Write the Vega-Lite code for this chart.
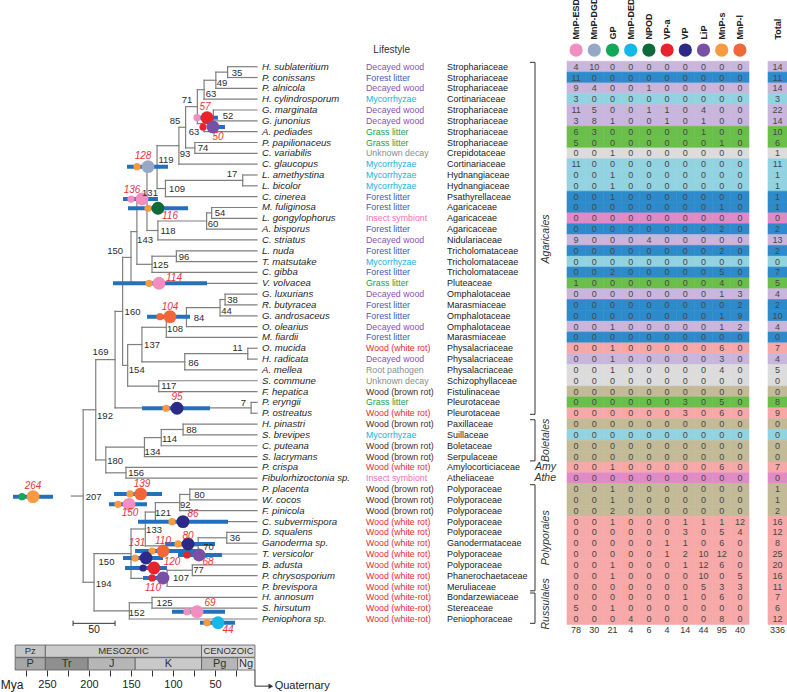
{
"$schema":"https://vega.github.io/schema/vega-lite/v6.json",
"width":787,"height":692,"autosize":{"type":"none"},"padding":0,"background":"white",
"config":{"view":{"stroke":null},"font":"Liberation Sans"},
"datasets":{
"hz":[{"a":35,"b":0,"r":0},{"a":35,"b":0,"r":1},{"a":49,"b":0,"r":2},{"a":63,"b":0,"r":3},{"a":52,"b":0,"r":4},{"a":52,"b":0,"r":5},{"a":63,"b":0,"r":6},{"a":74,"b":0,"r":7},{"a":74,"b":0,"r":8},{"a":93,"b":0,"r":9},{"a":17,"b":0,"r":10},{"a":17,"b":0,"r":11},{"a":109,"b":0,"r":12},{"a":54,"b":0,"r":13},{"a":54,"b":0,"r":14},{"a":60,"b":0,"r":15},{"a":118,"b":0,"r":16},{"a":96,"b":0,"r":17},{"a":96,"b":0,"r":18},{"a":125,"b":0,"r":19},{"a":150,"b":0,"r":20},{"a":38,"b":0,"r":21},{"a":38,"b":0,"r":22},{"a":44,"b":0,"r":23},{"a":84,"b":0,"r":24},{"a":108,"b":0,"r":25},{"a":11,"b":0,"r":26},{"a":11,"b":0,"r":27},{"a":86,"b":0,"r":28},{"a":117,"b":0,"r":29},{"a":117,"b":0,"r":30},{"a":7,"b":0,"r":31},{"a":7,"b":0,"r":32},{"a":88,"b":0,"r":33},{"a":88,"b":0,"r":34},{"a":114,"b":0,"r":35},{"a":134,"b":0,"r":36},{"a":156,"b":0,"r":37},{"a":156,"b":0,"r":38},{"a":80,"b":0,"r":39},{"a":80,"b":0,"r":40},{"a":92,"b":0,"r":41},{"a":121,"b":0,"r":42},{"a":36,"b":0,"r":43},{"a":36,"b":0,"r":44},{"a":70,"b":0,"r":45},{"a":77,"b":0,"r":46},{"a":77,"b":0,"r":47},{"a":107,"b":0,"r":48},{"a":125,"b":0,"r":49},{"a":125,"b":0,"r":50},{"a":152,"b":0,"r":51},
{"a":49,"b":35,"r":0.5},{"a":63,"b":49,"r":1.25},{"a":71,"b":63,"r":2.125},{"a":63,"b":52,"r":4.5},{"a":71,"b":63,"r":5.25},{"a":85,"b":71,"r":3.688},{"a":85,"b":74,"r":7.5},{"a":93,"b":85,"r":5.594},{"a":119,"b":93,"r":7.297},{"a":109,"b":17,"r":10.5},{"a":119,"b":109,"r":11.25},{"a":131,"b":119,"r":9.273},{"a":60,"b":54,"r":13.5},{"a":118,"b":60,"r":14.25},{"a":131,"b":118,"r":15.125},{"a":143,"b":131,"r":12.199},{"a":125,"b":96,"r":17.5},{"a":143,"b":125,"r":18.25},{"a":150,"b":143,"r":15.225},{"a":160,"b":150,"r":17.612},{"a":44,"b":38,"r":21.5},{"a":84,"b":44,"r":22.25},{"a":108,"b":84,"r":23.125},{"a":137,"b":108,"r":24.063},{"a":86,"b":11,"r":26.5},{"a":137,"b":86,"r":27.25},{"a":154,"b":137,"r":25.656},{"a":154,"b":117,"r":29.5},{"a":160,"b":154,"r":27.578},{"a":169,"b":160,"r":22.595},{"a":169,"b":7,"r":31.5},{"a":192,"b":169,"r":27.048},{"a":114,"b":88,"r":33.5},{"a":134,"b":114,"r":34.25},{"a":180,"b":134,"r":35.125},{"a":180,"b":156,"r":37.5},{"a":192,"b":180,"r":36.313},{"a":207,"b":192,"r":31.68},{"a":92,"b":80,"r":39.5},{"a":121,"b":92,"r":40.25},{"a":133,"b":121,"r":41.125},{"a":70,"b":36,"r":43.5},{"a":133,"b":70,"r":44.25},{"a":150,"b":133,"r":42.688},{"a":107,"b":77,"r":46.5},{"a":150,"b":107,"r":47.25},{"a":194,"b":150,"r":44.969},{"a":152,"b":125,"r":49.5},{"a":194,"b":152,"r":50.25},{"a":207,"b":194,"r":47.609},{"a":221,"b":207,"r":39.645}],
"vt":[{"a":35,"r":0,"s":1},{"a":49,"r":0.5,"s":2},{"a":63,"r":1.25,"s":3},{"a":52,"r":4,"s":5},{"a":63,"r":4.5,"s":6},{"a":71,"r":2.125,"s":5.25},{"a":74,"r":7,"s":8},{"a":85,"r":3.688,"s":7.5},{"a":93,"r":5.594,"s":9},{"a":17,"r":10,"s":11},{"a":109,"r":10.5,"s":12},{"a":119,"r":7.297,"s":11.25},{"a":54,"r":13,"s":14},{"a":60,"r":13.5,"s":15},{"a":118,"r":14.25,"s":16},{"a":131,"r":9.273,"s":15.125},{"a":96,"r":17,"s":18},{"a":125,"r":17.5,"s":19},{"a":143,"r":12.199,"s":18.25},{"a":150,"r":15.225,"s":20},{"a":38,"r":21,"s":22},{"a":44,"r":21.5,"s":23},{"a":84,"r":22.25,"s":24},{"a":108,"r":23.125,"s":25},{"a":11,"r":26,"s":27},{"a":86,"r":26.5,"s":28},{"a":137,"r":24.063,"s":27.25},{"a":117,"r":29,"s":30},{"a":154,"r":25.656,"s":29.5},{"a":160,"r":17.612,"s":27.578},{"a":7,"r":31,"s":32},{"a":169,"r":22.595,"s":31.5},{"a":88,"r":33,"s":34},{"a":114,"r":33.5,"s":35},{"a":134,"r":34.25,"s":36},{"a":156,"r":37,"s":38},{"a":180,"r":35.125,"s":37.5},{"a":192,"r":27.048,"s":36.313},{"a":80,"r":39,"s":40},{"a":92,"r":39.5,"s":41},{"a":121,"r":40.25,"s":42},{"a":36,"r":43,"s":44},{"a":70,"r":43.5,"s":45},{"a":133,"r":41.125,"s":44.25},{"a":77,"r":46,"s":47},{"a":107,"r":46.5,"s":48},{"a":150,"r":42.688,"s":47.25},{"a":125,"r":49,"s":50},{"a":152,"r":49.5,"s":51},{"a":194,"r":44.969,"s":50.25},{"a":207,"r":31.68,"s":47.609}],
"ev":[{"t":"57","a":59.5,"r":4.71,"sa":71.4,"lo":67.9,"hi":46.4,"big":"VP-a","small":"MnP-ESD","la":61.9,"lr":3.72},
{"t":"50","a":52.4,"r":5.57,"sa":64.3,"lo":59.5,"hi":38.1,"big":"LiP","small":"VP-a","la":46.4,"lr":6.49},
{"t":"128","a":129.8,"r":9.23,"sa":142.9,"lo":154.8,"hi":106,"big":"MnP-DGD","small":"MnP-s","la":135.7,"lr":8.25},
{"t":"136","a":136.9,"r":12.22,"sa":150,"lo":159.5,"hi":117.9,"big":"MnP-ESD","small":"MnP-ESD","la":148.8,"lr":11.38},
{"t":"116","a":117.9,"r":13.07,"sa":129.8,"lo":153.6,"hi":82.1,"big":"NPOD","small":"MnP-s","la":103.6,"lr":13.76},
{"t":"114","a":116.7,"r":20.0,"sa":128.6,"lo":171.4,"hi":59.5,"big":"MnP-ESD","small":"MnP-s","la":98.8,"lr":19.51},
{"t":"104","a":103.6,"r":23.08,"sa":115.5,"lo":131,"hi":79.8,"big":"MnP-l","small":"MnP-l","la":103.6,"lr":22.19},
{"t":"95","a":95.2,"r":31.54,"sa":108.3,"lo":136.9,"hi":56,"big":"VP","small":"MnP-s","la":95.2,"lr":30.5},
{"t":"264","a":266.7,"r":39.7,"sa":279.8,"lo":290.5,"hi":242.9,"big":"MnP-s","small":"GP","la":266.7,"lr":38.72},
{"t":"139","a":138.5,"r":39.45,"sa":151.2,"lo":170.2,"hi":113.1,"big":"MnP-l","small":"MnP-s","la":136.9,"lr":38.53},
{"t":"150","a":152.4,"r":40.41,"sa":165.5,"lo":176.2,"hi":131,"big":"MnP-ESD","small":"MnP-s","la":151.2,"lr":41.21},
{"t":"86","a":88.1,"r":42.01,"sa":101.2,"lo":141.7,"hi":34.5,"big":"VP","small":"MnP-s","la":76.2,"lr":41.3},
{"t":"80","a":82.1,"r":44.07,"sa":94,"lo":109.5,"hi":50,"big":"VP","small":"MnP-s","la":82.1,"lr":43.33},
{"t":"110","a":111.9,"r":44.72,"sa":125,"lo":145.2,"hi":71.4,"big":"MnP-l","small":"MnP-s","la":111.9,"lr":43.8},
{"t":"131","a":132.1,"r":45.37,"sa":145.2,"lo":159.5,"hi":111.9,"big":"VP","small":"MnP-s","la":142.9,"lr":43.98},
{"t":"68","a":69,"r":45.09,"sa":83.3,"lo":94,"hi":41.7,"big":"LiP","small":"VP-a","la":58.3,"lr":45.73},
{"t":"120","a":122.6,"r":46.29,"sa":135.7,"lo":157.1,"hi":107.1,"big":"VP-a","small":"VP","la":101.2,"lr":45.73},
{"t":"110","a":111.9,"r":47.21,"sa":125,"lo":135.7,"hi":107.1,"big":"LiP","small":"VP-a","la":123.8,"lr":48.14},
{"t":"69","a":71.4,"r":50.32,"sa":83.3,"lo":101.2,"hi":38.1,"big":"MnP-ESD","small":"MnP-ESD","la":56,"lr":49.49},
{"t":"44","a":46.4,"r":51.34,"sa":59.5,"lo":67.9,"hi":26.2,"big":"MnP-DED","small":"MnP-s","la":34.5,"lr":52.01}],
"nl":[{"t":"35","a":23.8,"r":0.55},{"t":"49","a":41.7,"r":1.5},{"t":"63","a":54.8,"r":2.52},{"t":"71","a":83.3,"r":3.07},{"t":"52","a":34.5,"r":4.55},{"t":"63","a":75,"r":6.03},{"t":"85","a":97.6,"r":5.01},{"t":"74","a":64.3,"r":7.5},{"t":"93","a":85.7,"r":8.06},{"t":"119","a":108.3,"r":8.61},{"t":"17","a":29.8,"r":9.9},{"t":"109","a":95.2,"r":11.29},{"t":"131","a":127.4,"r":11.66},{"t":"54","a":44,"r":13.51},{"t":"60","a":52.4,"r":14.52},{"t":"118","a":106,"r":15.17},{"t":"143","a":133.3,"r":16.0},{"t":"150","a":169,"r":17.02},{"t":"96","a":86.9,"r":17.57},{"t":"125","a":114.9,"r":18.31},{"t":"160","a":148.2,"r":22.68},{"t":"38","a":29.2,"r":21.54},{"t":"44","a":36.3,"r":22.53},{"t":"84","a":69,"r":23.18},{"t":"108","a":97.6,"r":24.25},{"t":"137","a":125,"r":25.7},{"t":"11","a":23.2,"r":25.95},{"t":"86","a":75.6,"r":27.39},{"t":"154","a":143.2,"r":28.0},{"t":"169","a":186.3,"r":26.3},{"t":"117","a":105.1,"r":29.48},{"t":"7","a":16.3,"r":31.03},{"t":"192","a":181,"r":32.25},{"t":"88","a":78,"r":33.55},{"t":"114","a":104.2,"r":34.4},{"t":"134","a":124.4,"r":35.55},{"t":"180","a":169,"r":36.41},{"t":"156","a":144,"r":37.54},{"t":"207","a":194.6,"r":39.7},{"t":"80","a":68.5,"r":39.55},{"t":"92","a":85.4,"r":40.47},{"t":"121","a":111.9,"r":41.24},{"t":"133","a":122.6,"r":42.78},{"t":"36","a":26.2,"r":43.55},{"t":"70","a":57.7,"r":44.32},{"t":"150","a":179.2,"r":45.7},{"t":"77","a":69.6,"r":46.47},{"t":"107","a":90.5,"r":47.24},{"t":"194","a":182.7,"r":47.77},{"t":"125","a":110.1,"r":49.55},{"t":"152","a":143.2,"r":50.47}],
"sb":[{"a":219,"b":169,"r":51.4,"s":51.4},{"a":219,"b":219,"r":51.15,"s":51.65},{"a":169,"b":169,"r":51.15,"s":51.65}],
"geo":[{"n":"Pz","lv":"era","s":288,"e":252,"m":270},{"n":"MESOZOIC","lv":"era","s":252,"e":66,"m":159},{"n":"CENOZOIC","lv":"era","s":66,"e":2.4,"m":34},{"n":"P","lv":"period","s":288,"e":252,"m":270},{"n":"Tr","lv":"period","s":252,"e":201,"m":226.5},{"n":"J","lv":"period","s":201,"e":145,"m":173},{"n":"K","lv":"period","s":145,"e":66,"m":105.5},{"n":"Pg","lv":"period","s":66,"e":23,"m":44.5},{"n":"Ng","lv":"period","s":23,"e":2.4,"m":13}],
"orders":[{"o":"Agaricales","r1":-0.4,"r2":32.1,"m":15.9},{"o":"Boletales","r1":32.6,"r2":36.4,"m":34.5},{"o":"Polyporales","r1":38.6,"r2":48.4,"m":43.5},{"o":"Russulales","r1":48.6,"r2":51.4,"m":49.6}],
"enz":[{"e":"MnP-ESD"},{"e":"MnP-DGD"},{"e":"GP"},{"e":"MnP-DED"},{"e":"NPOD"},{"e":"VP-a"},{"e":"VP"},{"e":"LiP"},{"e":"MnP-s"},{"e":"MnP-l"}],
"coltot":[{"e":"MnP-ESD","n":78,"sp":"Total"},{"e":"MnP-DGD","n":30,"sp":"Total"},{"e":"GP","n":21,"sp":"Total"},{"e":"MnP-DED","n":4,"sp":"Total"},{"e":"NPOD","n":6,"sp":"Total"},{"e":"VP-a","n":4,"sp":"Total"},{"e":"VP","n":14,"sp":"Total"},{"e":"LiP","n":44,"sp":"Total"},{"e":"MnP-s","n":95,"sp":"Total"},{"e":"MnP-l","n":40,"sp":"Total"}],
"species":[
{"sp":"H. sublateritium","life":"Decayed wood","fam":"Strophariaceae","MnP-ESD":4,"MnP-DGD":10,"GP":0,"MnP-DED":0,"NPOD":0,"VP-a":0,"VP":0,"LiP":0,"MnP-s":0,"MnP-l":0,"tot":14},
{"sp":"P. conissans","life":"Forest litter","fam":"Strophariaceae","MnP-ESD":11,"MnP-DGD":0,"GP":0,"MnP-DED":0,"NPOD":0,"VP-a":0,"VP":0,"LiP":0,"MnP-s":0,"MnP-l":0,"tot":11},
{"sp":"P. alnicola","life":"Decayed wood","fam":"Strophariaceae","MnP-ESD":9,"MnP-DGD":4,"GP":0,"MnP-DED":0,"NPOD":1,"VP-a":0,"VP":0,"LiP":0,"MnP-s":0,"MnP-l":0,"tot":14},
{"sp":"H. cylindrosporum","life":"Mycorrhyzae","fam":"Cortinariaceae","MnP-ESD":3,"MnP-DGD":0,"GP":0,"MnP-DED":0,"NPOD":0,"VP-a":0,"VP":0,"LiP":0,"MnP-s":0,"MnP-l":0,"tot":3},
{"sp":"G. marginata","life":"Decayed wood","fam":"Strophariaceae","MnP-ESD":11,"MnP-DGD":5,"GP":0,"MnP-DED":0,"NPOD":1,"VP-a":1,"VP":0,"LiP":4,"MnP-s":0,"MnP-l":0,"tot":22},
{"sp":"G. junonius","life":"Decayed wood","fam":"Strophariaceae","MnP-ESD":3,"MnP-DGD":8,"GP":1,"MnP-DED":0,"NPOD":0,"VP-a":1,"VP":0,"LiP":1,"MnP-s":0,"MnP-l":0,"tot":14},
{"sp":"A. pediades","life":"Grass litter","fam":"Strophariaceae","MnP-ESD":6,"MnP-DGD":3,"GP":0,"MnP-DED":0,"NPOD":0,"VP-a":0,"VP":0,"LiP":1,"MnP-s":0,"MnP-l":0,"tot":10},
{"sp":"P. papilionaceus","life":"Grass litter","fam":"Strophariaceae","MnP-ESD":5,"MnP-DGD":0,"GP":0,"MnP-DED":0,"NPOD":0,"VP-a":0,"VP":0,"LiP":0,"MnP-s":1,"MnP-l":0,"tot":6},
{"sp":"C. variabilis","life":"Unknown decay","fam":"Crepidotaceae","MnP-ESD":0,"MnP-DGD":0,"GP":1,"MnP-DED":0,"NPOD":0,"VP-a":0,"VP":0,"LiP":0,"MnP-s":0,"MnP-l":0,"tot":1},
{"sp":"C. glaucopus","life":"Mycorrhyzae","fam":"Cortinariaceae","MnP-ESD":11,"MnP-DGD":0,"GP":0,"MnP-DED":0,"NPOD":0,"VP-a":0,"VP":0,"LiP":0,"MnP-s":0,"MnP-l":0,"tot":11},
{"sp":"L. amethystina","life":"Mycorrhyzae","fam":"Hydnangiaceae","MnP-ESD":0,"MnP-DGD":0,"GP":1,"MnP-DED":0,"NPOD":0,"VP-a":0,"VP":0,"LiP":0,"MnP-s":0,"MnP-l":0,"tot":1},
{"sp":"L. bicolor","life":"Mycorrhyzae","fam":"Hydnangiaceae","MnP-ESD":0,"MnP-DGD":0,"GP":1,"MnP-DED":0,"NPOD":0,"VP-a":0,"VP":0,"LiP":0,"MnP-s":0,"MnP-l":0,"tot":1},
{"sp":"C. cinerea","life":"Forest litter","fam":"Psathyrellaceae","MnP-ESD":0,"MnP-DGD":0,"GP":1,"MnP-DED":0,"NPOD":0,"VP-a":0,"VP":0,"LiP":0,"MnP-s":0,"MnP-l":0,"tot":1},
{"sp":"M. fuliginosa","life":"Forest litter","fam":"Agaricaceae","MnP-ESD":0,"MnP-DGD":0,"GP":0,"MnP-DED":0,"NPOD":0,"VP-a":0,"VP":0,"LiP":0,"MnP-s":1,"MnP-l":0,"tot":1},
{"sp":"L. gongylophorus","life":"Insect symbiont","fam":"Agaricaceae","MnP-ESD":0,"MnP-DGD":0,"GP":0,"MnP-DED":0,"NPOD":0,"VP-a":0,"VP":0,"LiP":0,"MnP-s":0,"MnP-l":0,"tot":0},
{"sp":"A. bisporus","life":"Forest litter","fam":"Agaricaceae","MnP-ESD":0,"MnP-DGD":0,"GP":0,"MnP-DED":0,"NPOD":0,"VP-a":0,"VP":0,"LiP":0,"MnP-s":2,"MnP-l":0,"tot":2},
{"sp":"C. striatus","life":"Decayed wood","fam":"Nidulariaceae","MnP-ESD":9,"MnP-DGD":0,"GP":0,"MnP-DED":0,"NPOD":4,"VP-a":0,"VP":0,"LiP":0,"MnP-s":0,"MnP-l":0,"tot":13},
{"sp":"L. nuda","life":"Forest litter","fam":"Tricholomataceae","MnP-ESD":0,"MnP-DGD":0,"GP":0,"MnP-DED":0,"NPOD":0,"VP-a":0,"VP":0,"LiP":0,"MnP-s":2,"MnP-l":0,"tot":2},
{"sp":"T. matsutake","life":"Mycorrhyzae","fam":"Tricholomataceae","MnP-ESD":0,"MnP-DGD":0,"GP":0,"MnP-DED":0,"NPOD":0,"VP-a":0,"VP":0,"LiP":0,"MnP-s":0,"MnP-l":0,"tot":0},
{"sp":"C. gibba","life":"Forest litter","fam":"Tricholomataceae","MnP-ESD":0,"MnP-DGD":0,"GP":2,"MnP-DED":0,"NPOD":0,"VP-a":0,"VP":0,"LiP":0,"MnP-s":5,"MnP-l":0,"tot":7},
{"sp":"V. volvacea","life":"Grass litter","fam":"Pluteaceae","MnP-ESD":1,"MnP-DGD":0,"GP":0,"MnP-DED":0,"NPOD":0,"VP-a":0,"VP":0,"LiP":0,"MnP-s":4,"MnP-l":0,"tot":5},
{"sp":"G. luxurians","life":"Decayed wood","fam":"Omphalotaceae","MnP-ESD":0,"MnP-DGD":0,"GP":0,"MnP-DED":0,"NPOD":0,"VP-a":0,"VP":0,"LiP":0,"MnP-s":1,"MnP-l":3,"tot":4},
{"sp":"R. butyracea","life":"Forest litter","fam":"Marasmiaceae","MnP-ESD":0,"MnP-DGD":0,"GP":0,"MnP-DED":0,"NPOD":0,"VP-a":0,"VP":0,"LiP":0,"MnP-s":0,"MnP-l":2,"tot":2},
{"sp":"G. androsaceus","life":"Forest litter","fam":"Omphalotaceae","MnP-ESD":0,"MnP-DGD":0,"GP":0,"MnP-DED":0,"NPOD":0,"VP-a":0,"VP":0,"LiP":0,"MnP-s":1,"MnP-l":9,"tot":10},
{"sp":"O. olearius","life":"Decayed wood","fam":"Omphalotaceae","MnP-ESD":0,"MnP-DGD":0,"GP":1,"MnP-DED":0,"NPOD":0,"VP-a":0,"VP":0,"LiP":0,"MnP-s":1,"MnP-l":2,"tot":4},
{"sp":"M. fiardii","life":"Forest litter","fam":"Marasmiaceae","MnP-ESD":0,"MnP-DGD":0,"GP":0,"MnP-DED":0,"NPOD":0,"VP-a":0,"VP":0,"LiP":0,"MnP-s":0,"MnP-l":0,"tot":0},
{"sp":"O. mucida","life":"Wood (white rot)","fam":"Physalacriaceae","MnP-ESD":0,"MnP-DGD":0,"GP":1,"MnP-DED":0,"NPOD":0,"VP-a":0,"VP":0,"LiP":0,"MnP-s":6,"MnP-l":0,"tot":7},
{"sp":"H. radicata","life":"Decayed wood","fam":"Physalacriaceae","MnP-ESD":0,"MnP-DGD":0,"GP":1,"MnP-DED":0,"NPOD":0,"VP-a":0,"VP":0,"LiP":0,"MnP-s":3,"MnP-l":0,"tot":4},
{"sp":"A. mellea","life":"Root pathogen","fam":"Physalacriaceae","MnP-ESD":0,"MnP-DGD":0,"GP":1,"MnP-DED":0,"NPOD":0,"VP-a":0,"VP":0,"LiP":0,"MnP-s":4,"MnP-l":0,"tot":5},
{"sp":"S. commune","life":"Unknown decay","fam":"Schizophyllaceae","MnP-ESD":0,"MnP-DGD":0,"GP":0,"MnP-DED":0,"NPOD":0,"VP-a":0,"VP":0,"LiP":0,"MnP-s":0,"MnP-l":0,"tot":0},
{"sp":"F. hepatica","life":"Wood (brown rot)","fam":"Fistulinaceae","MnP-ESD":0,"MnP-DGD":0,"GP":0,"MnP-DED":0,"NPOD":0,"VP-a":0,"VP":0,"LiP":0,"MnP-s":0,"MnP-l":0,"tot":0},
{"sp":"P. eryngii","life":"Grass litter","fam":"Pleurotaceae","MnP-ESD":0,"MnP-DGD":0,"GP":0,"MnP-DED":0,"NPOD":0,"VP-a":0,"VP":3,"LiP":0,"MnP-s":5,"MnP-l":0,"tot":8},
{"sp":"P. ostreatus","life":"Wood (white rot)","fam":"Pleurotaceae","MnP-ESD":0,"MnP-DGD":0,"GP":0,"MnP-DED":0,"NPOD":0,"VP-a":0,"VP":3,"LiP":0,"MnP-s":6,"MnP-l":0,"tot":9},
{"sp":"H. pinastri","life":"Wood (brown rot)","fam":"Paxillaceae","MnP-ESD":0,"MnP-DGD":0,"GP":0,"MnP-DED":0,"NPOD":0,"VP-a":0,"VP":0,"LiP":0,"MnP-s":0,"MnP-l":0,"tot":0},
{"sp":"S. brevipes","life":"Mycorrhyzae","fam":"Suillaceae","MnP-ESD":0,"MnP-DGD":0,"GP":0,"MnP-DED":0,"NPOD":0,"VP-a":0,"VP":0,"LiP":0,"MnP-s":0,"MnP-l":0,"tot":0},
{"sp":"C. puteana","life":"Wood (brown rot)","fam":"Boletaceae","MnP-ESD":0,"MnP-DGD":0,"GP":0,"MnP-DED":0,"NPOD":0,"VP-a":0,"VP":0,"LiP":0,"MnP-s":0,"MnP-l":0,"tot":0},
{"sp":"S. lacrymans","life":"Wood (brown rot)","fam":"Serpulaceae","MnP-ESD":0,"MnP-DGD":0,"GP":0,"MnP-DED":0,"NPOD":0,"VP-a":0,"VP":0,"LiP":0,"MnP-s":0,"MnP-l":0,"tot":0},
{"sp":"P. crispa","life":"Wood (white rot)","fam":"Amylocorticiaceae","MnP-ESD":0,"MnP-DGD":0,"GP":1,"MnP-DED":0,"NPOD":0,"VP-a":0,"VP":0,"LiP":0,"MnP-s":6,"MnP-l":0,"tot":7},
{"sp":"Fibulorhizoctonia sp.","life":"Insect symbiont","fam":"Atheliaceae","MnP-ESD":0,"MnP-DGD":0,"GP":0,"MnP-DED":0,"NPOD":0,"VP-a":0,"VP":0,"LiP":0,"MnP-s":0,"MnP-l":0,"tot":0},
{"sp":"P. placenta","life":"Wood (brown rot)","fam":"Polyporaceae","MnP-ESD":0,"MnP-DGD":0,"GP":1,"MnP-DED":0,"NPOD":0,"VP-a":0,"VP":0,"LiP":0,"MnP-s":0,"MnP-l":0,"tot":1},
{"sp":"W. cocos","life":"Wood (brown rot)","fam":"Polyporaceae","MnP-ESD":0,"MnP-DGD":0,"GP":1,"MnP-DED":0,"NPOD":0,"VP-a":0,"VP":0,"LiP":0,"MnP-s":0,"MnP-l":0,"tot":1},
{"sp":"F. pinicola","life":"Wood (brown rot)","fam":"Polyporaceae","MnP-ESD":0,"MnP-DGD":0,"GP":2,"MnP-DED":0,"NPOD":0,"VP-a":0,"VP":0,"LiP":0,"MnP-s":0,"MnP-l":0,"tot":2},
{"sp":"C. subvermispora","life":"Wood (white rot)","fam":"Polyporaceae","MnP-ESD":0,"MnP-DGD":0,"GP":1,"MnP-DED":0,"NPOD":0,"VP-a":0,"VP":1,"LiP":1,"MnP-s":1,"MnP-l":12,"tot":16},
{"sp":"D. squalens","life":"Wood (white rot)","fam":"Polyporaceae","MnP-ESD":0,"MnP-DGD":0,"GP":0,"MnP-DED":0,"NPOD":0,"VP-a":0,"VP":3,"LiP":0,"MnP-s":5,"MnP-l":4,"tot":12},
{"sp":"Ganoderma sp.","life":"Wood (white rot)","fam":"Ganodermataceae","MnP-ESD":0,"MnP-DGD":0,"GP":0,"MnP-DED":0,"NPOD":0,"VP-a":1,"VP":1,"LiP":0,"MnP-s":6,"MnP-l":0,"tot":8},
{"sp":"T. versicolor","life":"Wood (white rot)","fam":"Polyporaceae","MnP-ESD":0,"MnP-DGD":0,"GP":0,"MnP-DED":0,"NPOD":0,"VP-a":1,"VP":2,"LiP":10,"MnP-s":12,"MnP-l":0,"tot":25},
{"sp":"B. adusta","life":"Wood (white rot)","fam":"Polyporaceae","MnP-ESD":0,"MnP-DGD":0,"GP":1,"MnP-DED":0,"NPOD":0,"VP-a":0,"VP":1,"LiP":12,"MnP-s":6,"MnP-l":0,"tot":20},
{"sp":"P. chrysosporium","life":"Wood (white rot)","fam":"Phanerochaetaceae","MnP-ESD":0,"MnP-DGD":0,"GP":1,"MnP-DED":0,"NPOD":0,"VP-a":0,"VP":0,"LiP":10,"MnP-s":0,"MnP-l":5,"tot":16},
{"sp":"P. brevispora","life":"Wood (white rot)","fam":"Meruliaceae","MnP-ESD":0,"MnP-DGD":0,"GP":0,"MnP-DED":0,"NPOD":0,"VP-a":0,"VP":0,"LiP":5,"MnP-s":3,"MnP-l":3,"tot":11},
{"sp":"H. annosum","life":"Wood (white-rot)","fam":"Bondarzewiaceae","MnP-ESD":0,"MnP-DGD":0,"GP":0,"MnP-DED":0,"NPOD":0,"VP-a":0,"VP":1,"LiP":0,"MnP-s":6,"MnP-l":0,"tot":7},
{"sp":"S. hirsutum","life":"Wood (white-rot)","fam":"Stereaceae","MnP-ESD":5,"MnP-DGD":0,"GP":1,"MnP-DED":0,"NPOD":0,"VP-a":0,"VP":0,"LiP":0,"MnP-s":0,"MnP-l":0,"tot":6},
{"sp":"Peniophora sp.","life":"Wood (white-rot)","fam":"Peniophoraceae","MnP-ESD":0,"MnP-DGD":0,"GP":0,"MnP-DED":4,"NPOD":0,"VP-a":0,"VP":0,"LiP":0,"MnP-s":8,"MnP-l":0,"tot":12}]
},
"resolve":{"scale":{"x":"independent","y":"independent","color":"independent","fill":"independent","stroke":"independent","size":"independent"}},
"layer":[
{"data":{"name":"hz"},"mark":{"type":"rule","stroke":"#7f7f7f","strokeWidth":1.2,"strokeCap":"square"},
 "encoding":{"x":{"field":"a","type":"quantitative","scale":{"domain":[306,0],"range":[0,257],"nice":false,"zero":false},"axis":null},"x2":{"field":"b"},
 "y":{"field":"r","type":"quantitative","scale":{"domain":[0,51],"range":[66.7,619],"nice":false,"zero":false},"axis":null}}},
{"data":{"name":"vt"},"mark":{"type":"rule","stroke":"#7f7f7f","strokeWidth":1.2,"strokeCap":"square"},
 "encoding":{"x":{"field":"a","type":"quantitative","scale":{"domain":[306,0],"range":[0,257],"nice":false,"zero":false},"axis":null},
 "y":{"field":"r","type":"quantitative","scale":{"domain":[0,51],"range":[66.7,619],"nice":false,"zero":false},"axis":null},"y2":{"field":"s"}}},
{"data":{"name":"ev"},"mark":{"type":"rule","stroke":"#2570bd","strokeWidth":4},
 "encoding":{"x":{"field":"lo","type":"quantitative","scale":{"domain":[306,0],"range":[0,257],"nice":false,"zero":false},"axis":null},"x2":{"field":"hi"},
 "y":{"field":"r","type":"quantitative","scale":{"domain":[0,51],"range":[66.7,619],"nice":false,"zero":false},"axis":null}}},
{"data":{"name":"ev"},"mark":{"type":"point","filled":true,"opacity":1,"size":52,"strokeWidth":0},
 "encoding":{"x":{"field":"sa","type":"quantitative","scale":{"domain":[306,0],"range":[0,257],"nice":false,"zero":false},"axis":null},
 "y":{"field":"r","type":"quantitative","scale":{"domain":[0,51],"range":[66.7,619],"nice":false,"zero":false},"axis":null},
 "fill":{"field":"small","type":"nominal","scale":{"domain":["MnP-ESD","MnP-DGD","GP","MnP-DED","NPOD","VP-a","VP","LiP","MnP-s","MnP-l"],"range":["#f18fc0","#95a9c6","#12a85a","#13b7e8","#0c6b39","#e9232b","#2c2a86","#7851a6","#f79a42","#f0683a"]},"legend":null}}},
{"data":{"name":"ev"},"mark":{"type":"point","filled":true,"opacity":1,"size":165,"strokeWidth":0},
 "encoding":{"x":{"field":"a","type":"quantitative","scale":{"domain":[306,0],"range":[0,257],"nice":false,"zero":false},"axis":null},
 "y":{"field":"r","type":"quantitative","scale":{"domain":[0,51],"range":[66.7,619],"nice":false,"zero":false},"axis":null},
 "fill":{"field":"big","type":"nominal","scale":{"domain":["MnP-ESD","MnP-DGD","GP","MnP-DED","NPOD","VP-a","VP","LiP","MnP-s","MnP-l"],"range":["#f18fc0","#95a9c6","#12a85a","#13b7e8","#0c6b39","#e9232b","#2c2a86","#7851a6","#f79a42","#f0683a"]},"legend":null}}},
{"data":{"name":"nl"},"mark":{"type":"text","fontSize":9.5,"fill":"#2b2b2b","align":"center","baseline":"middle"},
 "encoding":{"x":{"field":"a","type":"quantitative","scale":{"domain":[306,0],"range":[0,257],"nice":false,"zero":false},"axis":null},
 "y":{"field":"r","type":"quantitative","scale":{"domain":[0,51],"range":[66.7,619],"nice":false,"zero":false},"axis":null},"text":{"field":"t"}}},
{"data":{"name":"ev"},"mark":{"type":"text","fontSize":10,"fontStyle":"italic","fill":"#e8343a","align":"center","baseline":"middle"},
 "encoding":{"x":{"field":"la","type":"quantitative","scale":{"domain":[306,0],"range":[0,257],"nice":false,"zero":false},"axis":null},
 "y":{"field":"lr","type":"quantitative","scale":{"domain":[0,51],"range":[66.7,619],"nice":false,"zero":false},"axis":null},"text":{"field":"t"}}},
{"data":{"name":"sb"},"mark":{"type":"rule","stroke":"#333","strokeWidth":1},
 "encoding":{"x":{"field":"a","type":"quantitative","scale":{"domain":[306,0],"range":[0,257],"nice":false,"zero":false},"axis":null},"x2":{"field":"b"},
 "y":{"field":"r","type":"quantitative","scale":{"domain":[0,51],"range":[66.7,619],"nice":false,"zero":false},"axis":null},"y2":{"field":"s"}}},
{"data":{"values":[{"t":"50"}]},"mark":{"type":"text","fontSize":10.5,"fill":"#222","align":"center","baseline":"middle"},
 "encoding":{"x":{"datum":194,"type":"quantitative","scale":{"domain":[306,0],"range":[0,257],"nice":false,"zero":false},"axis":null},
 "y":{"datum":52.05,"type":"quantitative","scale":{"domain":[0,51],"range":[66.7,619],"nice":false,"zero":false},"axis":null},"text":{"field":"t"}}},
{"data":{"name":"geo"},"mark":{"type":"rect","stroke":"#5a5a5a","strokeWidth":0.8},
 "encoding":{"x":{"field":"s","type":"quantitative","scale":{"domain":[306,0],"range":[0,257],"nice":false,"zero":false},
   "axis":{"orient":"bottom","offset":-22,"values":[275,250,225,200,175,150,125,100,75,50,25],"labelExpr":"datum.value % 50 === 0 ? datum.label : ''","domain":false,"grid":false,"tickSize":6,"tickColor":"#333","tickWidth":1,"labelFontSize":11,"labelColor":"#222","labelPadding":2,"title":null,"labelOverlap":false,"labelFlush":false}},
 "x2":{"field":"e"},
 "y":{"field":"lv","type":"nominal","scale":{"type":"band","domain":["era","period"],"range":[645,670],"paddingInner":0.03,"paddingOuter":0},"axis":null},
 "fill":{"field":"n","type":"nominal","scale":{"domain":["Pz","MESOZOIC","CENOZOIC","P","Tr","J","K","Pg","Ng"],"range":["#c4c4c4","#cbcbcb","#d6d6d6","#a6a6a6","#8f8f8f","#b6b6b6","#c9c9c9","#b6b6b6","#e0e0e0"]},"legend":null}}},
{"data":{"name":"geo"},"transform":[{"filter":"datum.lv === 'era'"}],"mark":{"type":"text","fontSize":9.5,"fill":"#333","align":"center","baseline":"middle"},
 "encoding":{"x":{"field":"m","type":"quantitative","scale":{"domain":[306,0],"range":[0,257],"nice":false,"zero":false},"axis":null},
 "y":{"field":"lv","type":"nominal","scale":{"type":"band","domain":["era","period"],"range":[645,670],"paddingInner":0.03,"paddingOuter":0},"axis":null},"text":{"field":"n"}}},
{"data":{"name":"geo"},"transform":[{"filter":"datum.lv === 'period'"}],"mark":{"type":"text","fontSize":11,"fill":"#333","align":"center","baseline":"middle"},
 "encoding":{"x":{"field":"m","type":"quantitative","scale":{"domain":[306,0],"range":[0,257],"nice":false,"zero":false},"axis":null},
 "y":{"field":"lv","type":"nominal","scale":{"type":"band","domain":["era","period"],"range":[645,670],"paddingInner":0.03,"paddingOuter":0},"axis":null},"text":{"field":"n"}}},
{"data":{"values":[{"t":"Mya"}]},"mark":{"type":"text","fontSize":12,"fill":"#222","align":"center","baseline":"middle"},
 "encoding":{"x":{"datum":291.5,"type":"quantitative","scale":{"domain":[306,0],"range":[0,257],"nice":false,"zero":false},"axis":null},
 "y":{"datum":57.1,"type":"quantitative","scale":{"domain":[0,51],"range":[66.7,619],"nice":false,"zero":false},"axis":null},"text":{"field":"t"}}},
{"data":{"values":[{"a":2.4,"b":2.4,"r":55.71,"s":57.2},{"a":2.4,"b":-15,"r":57.2,"s":57.2}]},"mark":{"type":"rule","stroke":"#333","strokeWidth":1},
 "encoding":{"x":{"field":"a","type":"quantitative","scale":{"domain":[306,0],"range":[0,257],"nice":false,"zero":false},"axis":null},"x2":{"field":"b"},
 "y":{"field":"r","type":"quantitative","scale":{"domain":[0,51],"range":[66.7,619],"nice":false,"zero":false},"axis":null},"y2":{"field":"s"}}},
{"data":{"values":[{"t":"Quaternary"}]},"mark":{"type":"point","shape":"triangle-right","filled":true,"fill":"#333","opacity":1,"size":30,"strokeWidth":0},
 "encoding":{"x":{"datum":-16.5,"type":"quantitative","scale":{"domain":[306,0],"range":[0,257],"nice":false,"zero":false},"axis":null},
 "y":{"datum":57.2,"type":"quantitative","scale":{"domain":[0,51],"range":[66.7,619],"nice":false,"zero":false},"axis":null}}},
{"data":{"values":[{"t":"Quaternary"}]},"mark":{"type":"text","fontSize":11,"fill":"#222","align":"left","baseline":"middle"},
 "encoding":{"x":{"datum":-21,"type":"quantitative","scale":{"domain":[306,0],"range":[0,257],"nice":false,"zero":false},"axis":null},
 "y":{"datum":57.2,"type":"quantitative","scale":{"domain":[0,51],"range":[66.7,619],"nice":false,"zero":false},"axis":null},"text":{"field":"t"}}},
{"data":{"name":"species"},"mark":{"type":"text","fontSize":9.6,"fontStyle":"italic","fill":"#1e1e1e","align":"left","baseline":"middle"},
 "encoding":{"x":{"field":"sp","type":"nominal","scale":{"type":"point","range":[262,262]},"axis":null},
 "y":{"field":"sp","type":"nominal","scale":{"type":"band","domain":["H. sublateritium","P. conissans","P. alnicola","H. cylindrosporum","G. marginata","G. junonius","A. pediades","P. papilionaceus","C. variabilis","C. glaucopus","L. amethystina","L. bicolor","C. cinerea","M. fuliginosa","L. gongylophorus","A. bisporus","C. striatus","L. nuda","T. matsutake","C. gibba","V. volvacea","G. luxurians","R. butyracea","G. androsaceus","O. olearius","M. fiardii","O. mucida","H. radicata","A. mellea","S. commune","F. hepatica","P. eryngii","P. ostreatus","H. pinastri","S. brevipes","C. puteana","S. lacrymans","P. crispa","Fibulorhizoctonia sp.","P. placenta","W. cocos","F. pinicola","C. subvermispora","D. squalens","Ganoderma sp.","T. versicolor","B. adusta","P. chrysosporium","P. brevispora","H. annosum","S. hirsutum","Peniophora sp.","Total"],"range":[61.29,635.28],"paddingInner":0,"paddingOuter":0},"axis":null},
 "text":{"field":"sp"}}},
{"data":{"name":"species"},"mark":{"type":"text","fontSize":8.8,"align":"left","baseline":"middle"},
 "encoding":{"x":{"field":"life","type":"nominal","scale":{"type":"point","range":[366,366]},"axis":null},
 "y":{"field":"sp","type":"nominal","scale":{"type":"band","domain":["H. sublateritium","P. conissans","P. alnicola","H. cylindrosporum","G. marginata","G. junonius","A. pediades","P. papilionaceus","C. variabilis","C. glaucopus","L. amethystina","L. bicolor","C. cinerea","M. fuliginosa","L. gongylophorus","A. bisporus","C. striatus","L. nuda","T. matsutake","C. gibba","V. volvacea","G. luxurians","R. butyracea","G. androsaceus","O. olearius","M. fiardii","O. mucida","H. radicata","A. mellea","S. commune","F. hepatica","P. eryngii","P. ostreatus","H. pinastri","S. brevipes","C. puteana","S. lacrymans","P. crispa","Fibulorhizoctonia sp.","P. placenta","W. cocos","F. pinicola","C. subvermispora","D. squalens","Ganoderma sp.","T. versicolor","B. adusta","P. chrysosporium","P. brevispora","H. annosum","S. hirsutum","Peniophora sp.","Total"],"range":[61.29,635.28],"paddingInner":0,"paddingOuter":0},"axis":null},
 "color":{"field":"life","type":"nominal","scale":{"domain":["Decayed wood","Forest litter","Mycorrhyzae","Grass litter","Unknown decay","Insect symbiont","Wood (white rot)","Wood (brown rot)","Root pathogen","Wood (white-rot)"],"range":["#8e4fb5","#3d5bbf","#1bb1d8","#22a148","#8c8c8c","#f26db3","#ec2a2e","#4e2b1b","#8c8c8c","#ec2a2e"]},"legend":null},
 "text":{"field":"life"}}},
{"data":{"name":"species"},"mark":{"type":"text","fontSize":9,"fill":"#222","align":"left","baseline":"middle"},
 "encoding":{"x":{"field":"fam","type":"nominal","scale":{"type":"point","range":[447,447]},"axis":null},
 "y":{"field":"sp","type":"nominal","scale":{"type":"band","domain":["H. sublateritium","P. conissans","P. alnicola","H. cylindrosporum","G. marginata","G. junonius","A. pediades","P. papilionaceus","C. variabilis","C. glaucopus","L. amethystina","L. bicolor","C. cinerea","M. fuliginosa","L. gongylophorus","A. bisporus","C. striatus","L. nuda","T. matsutake","C. gibba","V. volvacea","G. luxurians","R. butyracea","G. androsaceus","O. olearius","M. fiardii","O. mucida","H. radicata","A. mellea","S. commune","F. hepatica","P. eryngii","P. ostreatus","H. pinastri","S. brevipes","C. puteana","S. lacrymans","P. crispa","Fibulorhizoctonia sp.","P. placenta","W. cocos","F. pinicola","C. subvermispora","D. squalens","Ganoderma sp.","T. versicolor","B. adusta","P. chrysosporium","P. brevispora","H. annosum","S. hirsutum","Peniophora sp.","Total"],"range":[61.29,635.28],"paddingInner":0,"paddingOuter":0},"axis":null},
 "text":{"field":"fam"}}},
{"data":{"values":[{"h":"Lifestyle"}]},"mark":{"type":"text","fontSize":10,"fill":"#333","align":"center","baseline":"middle"},
 "encoding":{"x":{"field":"h","type":"nominal","scale":{"type":"point","range":[391.7,391.7]},"axis":null},
 "y":{"datum":-1.54,"type":"quantitative","scale":{"domain":[0,51],"range":[66.7,619],"nice":false,"zero":false},"axis":null},"text":{"field":"h"}}},
{"data":{"name":"orders"},"mark":{"type":"rule","stroke":"#333","strokeWidth":1},
 "encoding":{"x":{"datum":1,"type":"quantitative","scale":{"domain":[0,1],"range":[530,535]},"axis":null},
 "y":{"field":"r1","type":"quantitative","scale":{"domain":[0,51],"range":[66.7,619],"nice":false,"zero":false},"axis":null},"y2":{"field":"r2"}}},
{"data":{"name":"orders"},"mark":{"type":"rule","stroke":"#333","strokeWidth":1},
 "encoding":{"x":{"datum":0,"type":"quantitative","scale":{"domain":[0,1],"range":[530,535]},"axis":null},"x2":{"datum":1},
 "y":{"field":"r1","type":"quantitative","scale":{"domain":[0,51],"range":[66.7,619],"nice":false,"zero":false},"axis":null}}},
{"data":{"name":"orders"},"mark":{"type":"rule","stroke":"#333","strokeWidth":1},
 "encoding":{"x":{"datum":0,"type":"quantitative","scale":{"domain":[0,1],"range":[530,535]},"axis":null},"x2":{"datum":1},
 "y":{"field":"r2","type":"quantitative","scale":{"domain":[0,51],"range":[66.7,619],"nice":false,"zero":false},"axis":null}}},
{"data":{"name":"orders"},"mark":{"type":"text","fontSize":10.5,"fontStyle":"italic","fill":"#333","align":"center","baseline":"middle","angle":270},
 "encoding":{"x":{"field":"o","type":"nominal","scale":{"type":"point","range":[545.5,545.5]},"axis":null},
 "y":{"field":"m","type":"quantitative","scale":{"domain":[0,51],"range":[66.7,619],"nice":false,"zero":false},"axis":null},"text":{"field":"o"}}},
{"data":{"values":[{"o":"Amy","r":37},{"o":"Athe","r":38}]},"mark":{"type":"text","fontSize":10.5,"fontStyle":"italic","fill":"#333","align":"right","baseline":"middle"},
 "encoding":{"x":{"field":"o","type":"nominal","scale":{"type":"point","range":[556,556]},"axis":null},
 "y":{"field":"r","type":"quantitative","scale":{"domain":[0,51],"range":[66.7,619],"nice":false,"zero":false},"axis":null},"text":{"field":"o"}}},
{"data":{"name":"species"},"transform":[{"fold":["MnP-ESD","MnP-DGD","GP","MnP-DED","NPOD","VP-a","VP","LiP","MnP-s","MnP-l"],"as":["enzyme","n"]}],
 "mark":{"type":"rect","strokeWidth":0.6},
 "encoding":{"x":{"field":"enzyme","type":"nominal","scale":{"type":"band","domain":["MnP-ESD","MnP-DGD","GP","MnP-DED","NPOD","VP-a","VP","LiP","MnP-s","MnP-l"],"range":[567,749],"paddingInner":0,"paddingOuter":0},"axis":null},
 "y":{"field":"sp","type":"nominal","scale":{"type":"band","domain":["H. sublateritium","P. conissans","P. alnicola","H. cylindrosporum","G. marginata","G. junonius","A. pediades","P. papilionaceus","C. variabilis","C. glaucopus","L. amethystina","L. bicolor","C. cinerea","M. fuliginosa","L. gongylophorus","A. bisporus","C. striatus","L. nuda","T. matsutake","C. gibba","V. volvacea","G. luxurians","R. butyracea","G. androsaceus","O. olearius","M. fiardii","O. mucida","H. radicata","A. mellea","S. commune","F. hepatica","P. eryngii","P. ostreatus","H. pinastri","S. brevipes","C. puteana","S. lacrymans","P. crispa","Fibulorhizoctonia sp.","P. placenta","W. cocos","F. pinicola","C. subvermispora","D. squalens","Ganoderma sp.","T. versicolor","B. adusta","P. chrysosporium","P. brevispora","H. annosum","S. hirsutum","Peniophora sp.","Total"],"range":[61.29,635.28],"paddingInner":0,"paddingOuter":0},"axis":null},
 "fill":{"field":"life","type":"nominal","scale":{"domain":["Decayed wood","Forest litter","Mycorrhyzae","Grass litter","Unknown decay","Insect symbiont","Wood (white rot)","Wood (brown rot)","Root pathogen","Wood (white-rot)"],"range":["#c9b6dc","#2e8bcb","#92d3e2","#6abf4b","#dcdcdc","#e08ac8","#f6a9a8","#c3ba97","#dcdcdc","#f6a9a8"]},"legend":null},
 "stroke":{"field":"life","type":"nominal","scale":{"domain":["Decayed wood","Forest litter","Mycorrhyzae","Grass litter","Unknown decay","Insect symbiont","Wood (white rot)","Wood (brown rot)","Root pathogen","Wood (white-rot)"],"range":["#c9b6dc","#2e8bcb","#92d3e2","#6abf4b","#dcdcdc","#e08ac8","#f6a9a8","#c3ba97","#dcdcdc","#f6a9a8"]},"legend":null}}},
{"data":{"name":"species"},"transform":[{"fold":["MnP-ESD","MnP-DGD","GP","MnP-DED","NPOD","VP-a","VP","LiP","MnP-s","MnP-l"],"as":["enzyme","n"]}],
 "mark":{"type":"text","fontSize":9,"fill":"#474747","align":"center","baseline":"middle"},
 "encoding":{"x":{"field":"enzyme","type":"nominal","scale":{"type":"band","domain":["MnP-ESD","MnP-DGD","GP","MnP-DED","NPOD","VP-a","VP","LiP","MnP-s","MnP-l"],"range":[567,749],"paddingInner":0,"paddingOuter":0},"axis":null},
 "y":{"field":"sp","type":"nominal","scale":{"type":"band","domain":["H. sublateritium","P. conissans","P. alnicola","H. cylindrosporum","G. marginata","G. junonius","A. pediades","P. papilionaceus","C. variabilis","C. glaucopus","L. amethystina","L. bicolor","C. cinerea","M. fuliginosa","L. gongylophorus","A. bisporus","C. striatus","L. nuda","T. matsutake","C. gibba","V. volvacea","G. luxurians","R. butyracea","G. androsaceus","O. olearius","M. fiardii","O. mucida","H. radicata","A. mellea","S. commune","F. hepatica","P. eryngii","P. ostreatus","H. pinastri","S. brevipes","C. puteana","S. lacrymans","P. crispa","Fibulorhizoctonia sp.","P. placenta","W. cocos","F. pinicola","C. subvermispora","D. squalens","Ganoderma sp.","T. versicolor","B. adusta","P. chrysosporium","P. brevispora","H. annosum","S. hirsutum","Peniophora sp.","Total"],"range":[61.29,635.28],"paddingInner":0,"paddingOuter":0},"axis":null},
 "text":{"field":"n"}}},
{"data":{"name":"species"},"transform":[{"fold":["tot"],"as":["col","n"]}],
 "mark":{"type":"rect","strokeWidth":0.6},
 "encoding":{"x":{"field":"col","type":"nominal","scale":{"type":"band","domain":["tot"],"range":[768,787],"paddingInner":0,"paddingOuter":0},"axis":null},
 "y":{"field":"sp","type":"nominal","scale":{"type":"band","domain":["H. sublateritium","P. conissans","P. alnicola","H. cylindrosporum","G. marginata","G. junonius","A. pediades","P. papilionaceus","C. variabilis","C. glaucopus","L. amethystina","L. bicolor","C. cinerea","M. fuliginosa","L. gongylophorus","A. bisporus","C. striatus","L. nuda","T. matsutake","C. gibba","V. volvacea","G. luxurians","R. butyracea","G. androsaceus","O. olearius","M. fiardii","O. mucida","H. radicata","A. mellea","S. commune","F. hepatica","P. eryngii","P. ostreatus","H. pinastri","S. brevipes","C. puteana","S. lacrymans","P. crispa","Fibulorhizoctonia sp.","P. placenta","W. cocos","F. pinicola","C. subvermispora","D. squalens","Ganoderma sp.","T. versicolor","B. adusta","P. chrysosporium","P. brevispora","H. annosum","S. hirsutum","Peniophora sp.","Total"],"range":[61.29,635.28],"paddingInner":0,"paddingOuter":0},"axis":null},
 "fill":{"field":"life","type":"nominal","scale":{"domain":["Decayed wood","Forest litter","Mycorrhyzae","Grass litter","Unknown decay","Insect symbiont","Wood (white rot)","Wood (brown rot)","Root pathogen","Wood (white-rot)"],"range":["#c9b6dc","#2e8bcb","#92d3e2","#6abf4b","#dcdcdc","#e08ac8","#f6a9a8","#c3ba97","#dcdcdc","#f6a9a8"]},"legend":null},
 "stroke":{"field":"life","type":"nominal","scale":{"domain":["Decayed wood","Forest litter","Mycorrhyzae","Grass litter","Unknown decay","Insect symbiont","Wood (white rot)","Wood (brown rot)","Root pathogen","Wood (white-rot)"],"range":["#c9b6dc","#2e8bcb","#92d3e2","#6abf4b","#dcdcdc","#e08ac8","#f6a9a8","#c3ba97","#dcdcdc","#f6a9a8"]},"legend":null}}},
{"data":{"name":"species"},"transform":[{"fold":["tot"],"as":["col","n"]}],
 "mark":{"type":"text","fontSize":9,"fill":"#474747","align":"center","baseline":"middle"},
 "encoding":{"x":{"field":"col","type":"nominal","scale":{"type":"band","domain":["tot"],"range":[768,787],"paddingInner":0,"paddingOuter":0},"axis":null},
 "y":{"field":"sp","type":"nominal","scale":{"type":"band","domain":["H. sublateritium","P. conissans","P. alnicola","H. cylindrosporum","G. marginata","G. junonius","A. pediades","P. papilionaceus","C. variabilis","C. glaucopus","L. amethystina","L. bicolor","C. cinerea","M. fuliginosa","L. gongylophorus","A. bisporus","C. striatus","L. nuda","T. matsutake","C. gibba","V. volvacea","G. luxurians","R. butyracea","G. androsaceus","O. olearius","M. fiardii","O. mucida","H. radicata","A. mellea","S. commune","F. hepatica","P. eryngii","P. ostreatus","H. pinastri","S. brevipes","C. puteana","S. lacrymans","P. crispa","Fibulorhizoctonia sp.","P. placenta","W. cocos","F. pinicola","C. subvermispora","D. squalens","Ganoderma sp.","T. versicolor","B. adusta","P. chrysosporium","P. brevispora","H. annosum","S. hirsutum","Peniophora sp.","Total"],"range":[61.29,635.28],"paddingInner":0,"paddingOuter":0},"axis":null},
 "text":{"field":"n"}}},
{"data":{"name":"coltot"},"mark":{"type":"text","fontSize":9,"fill":"#333","align":"center","baseline":"middle"},
 "encoding":{"x":{"field":"e","type":"nominal","scale":{"type":"band","domain":["MnP-ESD","MnP-DGD","GP","MnP-DED","NPOD","VP-a","VP","LiP","MnP-s","MnP-l"],"range":[567,749],"paddingInner":0,"paddingOuter":0},"axis":null},
 "y":{"field":"sp","type":"nominal","scale":{"type":"band","domain":["H. sublateritium","P. conissans","P. alnicola","H. cylindrosporum","G. marginata","G. junonius","A. pediades","P. papilionaceus","C. variabilis","C. glaucopus","L. amethystina","L. bicolor","C. cinerea","M. fuliginosa","L. gongylophorus","A. bisporus","C. striatus","L. nuda","T. matsutake","C. gibba","V. volvacea","G. luxurians","R. butyracea","G. androsaceus","O. olearius","M. fiardii","O. mucida","H. radicata","A. mellea","S. commune","F. hepatica","P. eryngii","P. ostreatus","H. pinastri","S. brevipes","C. puteana","S. lacrymans","P. crispa","Fibulorhizoctonia sp.","P. placenta","W. cocos","F. pinicola","C. subvermispora","D. squalens","Ganoderma sp.","T. versicolor","B. adusta","P. chrysosporium","P. brevispora","H. annosum","S. hirsutum","Peniophora sp.","Total"],"range":[61.29,635.28],"paddingInner":0,"paddingOuter":0},"axis":null},
 "text":{"field":"n"}}},
{"data":{"values":[{"col":"tot","n":336,"sp":"Total"}]},"mark":{"type":"text","fontSize":9,"fill":"#333","align":"center","baseline":"middle"},
 "encoding":{"x":{"field":"col","type":"nominal","scale":{"type":"band","domain":["tot"],"range":[768,787],"paddingInner":0,"paddingOuter":0},"axis":null},
 "y":{"field":"sp","type":"nominal","scale":{"type":"band","domain":["H. sublateritium","P. conissans","P. alnicola","H. cylindrosporum","G. marginata","G. junonius","A. pediades","P. papilionaceus","C. variabilis","C. glaucopus","L. amethystina","L. bicolor","C. cinerea","M. fuliginosa","L. gongylophorus","A. bisporus","C. striatus","L. nuda","T. matsutake","C. gibba","V. volvacea","G. luxurians","R. butyracea","G. androsaceus","O. olearius","M. fiardii","O. mucida","H. radicata","A. mellea","S. commune","F. hepatica","P. eryngii","P. ostreatus","H. pinastri","S. brevipes","C. puteana","S. lacrymans","P. crispa","Fibulorhizoctonia sp.","P. placenta","W. cocos","F. pinicola","C. subvermispora","D. squalens","Ganoderma sp.","T. versicolor","B. adusta","P. chrysosporium","P. brevispora","H. annosum","S. hirsutum","Peniophora sp.","Total"],"range":[61.29,635.28],"paddingInner":0,"paddingOuter":0},"axis":null},
 "text":{"field":"n"}}},
{"data":{"name":"enz"},"mark":{"type":"text","fontSize":9,"fontWeight":"bold","fill":"#222","align":"left","baseline":"middle","angle":270},
 "encoding":{"x":{"field":"e","type":"nominal","scale":{"type":"band","domain":["MnP-ESD","MnP-DGD","GP","MnP-DED","NPOD","VP-a","VP","LiP","MnP-s","MnP-l"],"range":[567,749],"paddingInner":0,"paddingOuter":0},"axis":null},
 "y":{"datum":-2.51,"type":"quantitative","scale":{"domain":[0,51],"range":[66.7,619],"nice":false,"zero":false},"axis":null},"text":{"field":"e"}}},
{"data":{"name":"enz"},"mark":{"type":"point","filled":true,"opacity":1,"size":175,"strokeWidth":0},
 "encoding":{"x":{"field":"e","type":"nominal","scale":{"type":"band","domain":["MnP-ESD","MnP-DGD","GP","MnP-DED","NPOD","VP-a","VP","LiP","MnP-s","MnP-l"],"range":[567,749],"paddingInner":0,"paddingOuter":0},"axis":null},
 "y":{"datum":-1.54,"type":"quantitative","scale":{"domain":[0,51],"range":[66.7,619],"nice":false,"zero":false},"axis":null},
 "fill":{"field":"e","type":"nominal","scale":{"domain":["MnP-ESD","MnP-DGD","GP","MnP-DED","NPOD","VP-a","VP","LiP","MnP-s","MnP-l"],"range":["#f18fc0","#95a9c6","#12a85a","#13b7e8","#0c6b39","#e9232b","#2c2a86","#7851a6","#f79a42","#f0683a"]},"legend":null}}},
{"data":{"values":[{"col":"tot","h":"Total"}]},"mark":{"type":"text","fontSize":9,"fontWeight":"bold","fill":"#222","align":"left","baseline":"middle","angle":270},
 "encoding":{"x":{"field":"col","type":"nominal","scale":{"type":"band","domain":["tot"],"range":[768,787],"paddingInner":0,"paddingOuter":0},"axis":null},
 "y":{"datum":-2.51,"type":"quantitative","scale":{"domain":[0,51],"range":[66.7,619],"nice":false,"zero":false},"axis":null},"text":{"field":"h"}}}
]
}
